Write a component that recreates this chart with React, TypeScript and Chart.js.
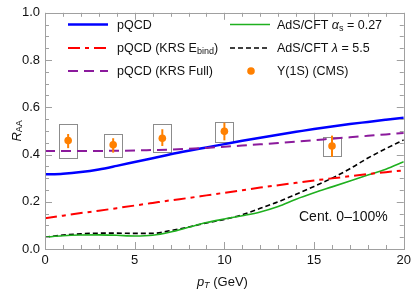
import React, { useEffect, useRef } from "react";
import { Chart, registerables } from "chart.js";
Chart.register(...registerables);

const pT = [0, 1, 2, 3, 4, 5, 6, 7, 8, 9, 10, 11, 12, 13, 14, 15, 16, 17, 18, 19, 20];
const pqcd = [0.316, 0.319, 0.326, 0.337, 0.352, 0.368, 0.384, 0.401, 0.416, 0.43, 0.444, 0.458, 0.471, 0.484, 0.496, 0.508, 0.519, 0.529, 0.538, 0.547, 0.556];
const krsEbind = [0.13, 0.141, 0.152, 0.162, 0.173, 0.184, 0.195, 0.206, 0.216, 0.227, 0.238, 0.249, 0.26, 0.27, 0.28, 0.29, 0.299, 0.308, 0.317, 0.325, 0.333];
const krsFull = [0.415, 0.415, 0.415, 0.415, 0.416, 0.417, 0.419, 0.421, 0.424, 0.428, 0.433, 0.438, 0.443, 0.449, 0.455, 0.461, 0.467, 0.473, 0.479, 0.485, 0.491];
const adsAlpha = [0.05, 0.056, 0.059, 0.06, 0.058, 0.055, 0.058, 0.072, 0.092, 0.112, 0.127, 0.141, 0.157, 0.18, 0.211, 0.238, 0.263, 0.288, 0.313, 0.338, 0.369];
const adsLambda = [0.05, 0.059, 0.064, 0.067, 0.067, 0.066, 0.066, 0.078, 0.093, 0.11, 0.125, 0.145, 0.172, 0.2, 0.232, 0.265, 0.3, 0.34, 0.385, 0.425, 0.462];

const cmsX = [1.29, 3.8, 6.54, 10, 16];
const cmsY = [0.459, 0.441, 0.469, 0.498, 0.436];
const cmsErrLow = [0.427, 0.408, 0.436, 0.46, 0.39];
const cmsErrHigh = [0.487, 0.469, 0.507, 0.535, 0.48];
const sysXLow = [0.79, 3.28, 6.04, 9.48, 15.5];
const sysXHigh = [1.78, 4.29, 7.03, 10.5, 16.48];
const sysLow = [0.386, 0.39, 0.411, 0.455, 0.397];
const sysHigh = [0.528, 0.487, 0.531, 0.539, 0.476];

const yTicks = [0, 0.2, 0.4, 0.6, 0.8, 1.0];
const xTicks = [0, 5, 10, 15, 20];

const FONT = "'Liberation Sans', Arial, sans-serif";
const ORANGE = "#ff8000";
const FRAME = "#a0a0a0";

type Run = { t: string; size: number; italic?: boolean; dy?: number };

function drawRuns(ctx: CanvasRenderingContext2D, runs: Run[], x: number, y: number, color = "#111") {
  ctx.save();
  ctx.fillStyle = color;
  ctx.textBaseline = "middle";
  ctx.textAlign = "left";
  let cx = x;
  for (const r of runs) {
    ctx.font = `${r.italic ? "italic " : ""}${r.size}px ${FONT}`;
    ctx.fillText(r.t, cx, y + (r.dy || 0));
    cx += ctx.measureText(r.t).width;
  }
  ctx.restore();
  return cx - x;
}

function runsWidth(ctx: CanvasRenderingContext2D, runs: Run[]) {
  let w = 0;
  ctx.save();
  for (const r of runs) {
    ctx.font = `${r.italic ? "italic " : ""}${r.size}px ${FONT}`;
    w += ctx.measureText(r.t).width;
  }
  ctx.restore();
  return w;
}

const decorPlugin = {
  id: "decor",
  beforeDatasetsDraw(chart: any) {
    const { ctx, scales } = chart;
    const xs = scales.x, ys = scales.y;
    ctx.save();
    ctx.strokeStyle = "#8c8c8c";
    ctx.lineWidth = 1;
    for (let i = 0; i < cmsX.length; i++) {
      const x1 = xs.getPixelForValue(sysXLow[i]);
      const x2 = xs.getPixelForValue(sysXHigh[i]);
      const y1 = ys.getPixelForValue(sysHigh[i]);
      const y2 = ys.getPixelForValue(sysLow[i]);
      ctx.strokeRect(Math.round(x1) + 0.5, Math.round(y1) + 0.5, Math.round(x2 - x1), Math.round(y2 - y1));
    }
    ctx.restore();
  },
  afterDatasetsDraw(chart: any) {
    const { ctx, scales, chartArea } = chart;
    const xs = scales.x, ys = scales.y;
    ctx.save();
    ctx.strokeStyle = ORANGE;
    ctx.fillStyle = ORANGE;
    ctx.lineWidth = 2;
    for (let i = 0; i < cmsX.length; i++) {
      const x = xs.getPixelForValue(cmsX[i]);
      ctx.beginPath();
      ctx.moveTo(x, ys.getPixelForValue(cmsErrLow[i]));
      ctx.lineTo(x, ys.getPixelForValue(cmsErrHigh[i]));
      ctx.stroke();
      ctx.beginPath();
      ctx.arc(x, ys.getPixelForValue(cmsY[i]), 3.8, 0, Math.PI * 2);
      ctx.fill();
    }
    ctx.restore();

    const { left, right, top, bottom } = chartArea;
    ctx.save();
    ctx.strokeStyle = FRAME;
    ctx.lineWidth = 1;
    ctx.strokeRect(Math.round(left) + 0.5, Math.round(top) + 0.5, Math.round(right - left), Math.round(bottom - top));
    ctx.beginPath();
    for (let v = 0; v <= 20.001; v += 1) {
      const x = Math.round(xs.getPixelForValue(v)) + 0.5;
      const len = v % 5 === 0 ? 7 : 4;
      ctx.moveTo(x, bottom); ctx.lineTo(x, bottom - len);
      ctx.moveTo(x, top); ctx.lineTo(x, top + len);
    }
    for (let k = 0; k <= 20; k++) {
      const v = k * 0.05;
      const y = Math.round(ys.getPixelForValue(v)) + 0.5;
      const len = k % 4 === 0 ? 7 : 4;
      ctx.moveTo(left, y); ctx.lineTo(left + len, y);
      ctx.moveTo(right, y); ctx.lineTo(right - len, y);
    }
    ctx.stroke();
    ctx.restore();

    const L1 = 68, T1 = 117, L2 = 230, T2 = 277, LW = 40;
    const rows = [24.5, 48, 71];
    const fs = 12.5;
    const line = (x: number, y: number, color: string, w: number, dash: number[]) => {
      ctx.save();
      ctx.strokeStyle = color; ctx.lineWidth = w; ctx.setLineDash(dash);
      ctx.beginPath(); ctx.moveTo(x, y); ctx.lineTo(x + LW, y); ctx.stroke();
      ctx.restore();
    };
    line(L1, rows[0], "#0000ff", 2.5, []);
    drawRuns(ctx, [{ t: "pQCD", size: fs }], T1, rows[0] + 1);
    line(L1, rows[1], "#ff0000", 2, [12, 5, 4, 5]);
    drawRuns(ctx, [{ t: "pQCD (KRS E", size: fs }, { t: "bind", size: 9, dy: 3 }, { t: ")", size: fs }], T1, rows[1] + 1);
    line(L1, rows[2], "#8b1a9c", 2, [10, 6]);
    drawRuns(ctx, [{ t: "pQCD (KRS Full)", size: fs }], T1, rows[2] + 1);
    line(L2, rows[0], "#1fb01f", 1.6, []);
    drawRuns(ctx, [{ t: "AdS/CFT ", size: fs }, { t: "α", size: fs, italic: true }, { t: "s", size: 9, dy: 3 }, { t: " = 0.27", size: fs }], T2, rows[0] + 1);
    line(L2, rows[1], "#000000", 1.6, [5, 3]);
    drawRuns(ctx, [{ t: "AdS/CFT ", size: fs }, { t: "λ", size: fs, italic: true }, { t: " = 5.5", size: fs }], T2, rows[1] + 1);
    ctx.save(); ctx.fillStyle = ORANGE; ctx.beginPath(); ctx.arc(L2 + 21, rows[2], 3.8, 0, Math.PI * 2); ctx.fill(); ctx.restore();
    drawRuns(ctx, [{ t: "Υ(1S) (CMS)", size: fs }], T2, rows[2] + 1);

    drawRuns(ctx, [{ t: "Cent. 0–100%", size: 14 }], 299, 217);

    const xt: Run[] = [{ t: "p", size: 13, italic: true }, { t: "T", size: 9, italic: true, dy: 3 }, { t: " (GeV)", size: 13 }];
    const wx = runsWidth(ctx, xt);
    drawRuns(ctx, xt, (left + right) / 2 - wx / 2 - 2, 282);
    const yt: Run[] = [{ t: "R", size: 13, italic: true }, { t: "AA", size: 9, dy: 3 }];
    const wy = runsWidth(ctx, yt);
    ctx.save();
    ctx.translate(17, (top + bottom) / 2);
    ctx.rotate(-Math.PI / 2);
    drawRuns(ctx, yt, -wy / 2, 0);
    ctx.restore();
  },
};

export default function App() {
  const ref = useRef<HTMLCanvasElement>(null);
  useEffect(() => {
    document.body.style.margin = "0";
    const mk = (d: number[]) => d.map((v, i) => ({ x: pT[i], y: v }));
    const base = { pointRadius: 0, cubicInterpolationMode: "monotone" as const, fill: false };
    const chart = new Chart(ref.current!, {
      type: "line",
      data: {
        datasets: [
          { ...base, label: "pQCD (KRS Full)", data: mk(krsFull), borderColor: "#8b1a9c", borderWidth: 2, borderDash: [10, 6] },
          { ...base, label: "pQCD (KRS Ebind)", data: mk(krsEbind), borderColor: "#ff0000", borderWidth: 2, borderDash: [12, 5, 4, 5] },
          { ...base, label: "AdS/CFT αs = 0.27", data: mk(adsAlpha), borderColor: "#1fb01f", borderWidth: 1.6 },
          { ...base, label: "AdS/CFT λ = 5.5", data: mk(adsLambda), borderColor: "#000000", borderWidth: 1.6, borderDash: [5, 3] },
          { ...base, label: "pQCD", data: mk(pqcd), borderColor: "#0000ff", borderWidth: 2.5 },
        ],
      },
      options: {
        animation: false,
        responsive: false,
        layout: { padding: { top: 8, right: 8, left: 0, bottom: 0 } },
        plugins: { legend: { display: false }, tooltip: { enabled: false } },
        scales: {
          x: {
            type: "linear", min: 0, max: 20,
            afterBuildTicks: (s: any) => { s.ticks = xTicks.map((v) => ({ value: v })); },
            ticks: { padding: 4, color: "#111", font: { family: FONT, size: 13 } },
            grid: { display: false, drawTicks: false },
            border: { display: false },
            afterFit: (s: any) => { s.height = 43; },
          },
          y: {
            type: "linear", min: 0, max: 1,
            afterBuildTicks: (s: any) => { s.ticks = yTicks.map((v) => ({ value: v })); },
            ticks: { padding: 5, color: "#111", font: { family: FONT, size: 13 }, callback: (v: any) => Number(v).toFixed(1) },
            grid: { display: false, drawTicks: false },
            border: { display: false },
            afterFit: (s: any) => { s.width = 45; },
          },
        },
      },
      plugins: [decorPlugin],
    });
    return () => chart.destroy();
  }, []);
  return <canvas ref={ref} width={415} height={292} style={{ display: "block" }} />;
}
